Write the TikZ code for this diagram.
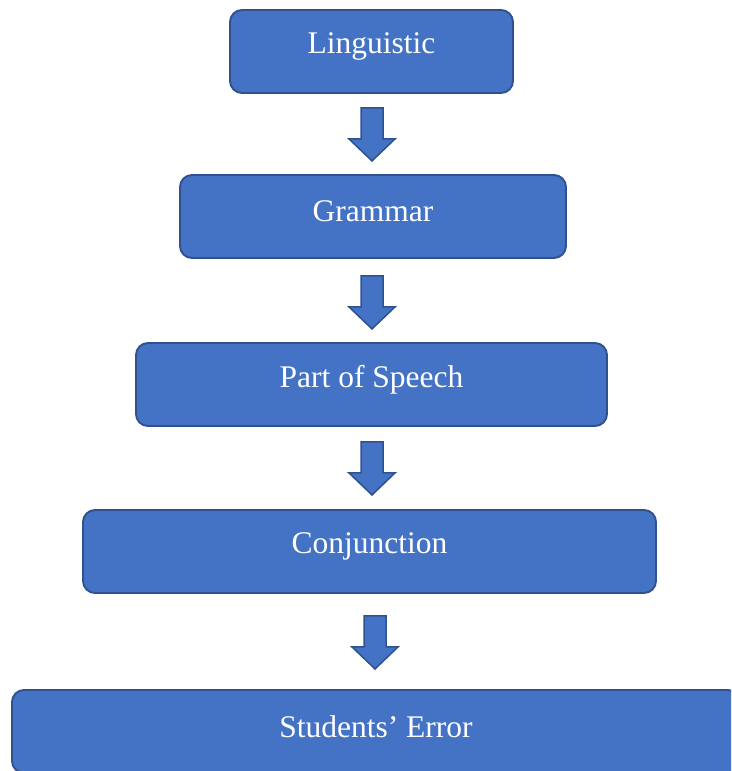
\documentclass[tikz,border=0pt]{standalone}
\usepackage{fontspec}
\setmainfont{Liberation Serif}
\usetikzlibrary{calc}
\definecolor{boxfill}{HTML}{4472C4}
\definecolor{boxline}{HTML}{2F528F}
\tikzset{
  box/.style={draw=boxline, fill=boxfill, line width=1.9pt, rounded corners=12pt, minimum height=83pt, inner sep=0pt},
  txt/.style={text=white, font=\fontsize{31.5}{36}\selectfont, inner sep=0pt, anchor=center},
  blockarrow/.style={draw=boxline, fill=boxfill, line width=1.5pt, line join=miter}
}
\newcommand{\downarrowat}[1]{%
  \draw[blockarrow] ($(#1)+(-11,0)$) -- ($(#1)+(11,0)$) -- ($(#1)+(11,31)$) -- ($(#1)+(23,31)$) -- ($(#1)+(0,53)$) -- ($(#1)+(-23,31)$) -- ($(#1)+(-11,31)$) -- cycle;}
\begin{document}
\begin{tikzpicture}[x=1pt,y=-1pt]
\useasboundingbox (0,0) rectangle (731,771);
\clip (0,0) rectangle (731,771);
\node[box, minimum width=283pt] (b1) at (371.5,51.5) {};
\node[box, minimum width=386pt] (b2) at (373,216.5) {};
\node[box, minimum width=471pt] (b3) at (371.5,384.5) {};
\node[box, minimum width=573pt] (b4) at (369.5,551.5) {};
\node[box, minimum width=728pt] (b5) at (376,731.5) {};
\node[txt] (t1) at ([yshift=-37.5pt]b1.north) {Linguistic};
\node[txt] (t2) at ([yshift=-37.5pt]b2.north) {Grammar};
\node[txt] (t3) at ([yshift=-37.5pt]b3.north) {Part of Speech};
\node[txt] (t4) at ([yshift=-37.5pt]b4.north) {Conjunction};
\node[txt] (t5) at ([yshift=-37.5pt]b5.north) {Students’ Error};
\coordinate (a1) at ($(b1.south)+(0.5,14)$);
\coordinate (a2) at ($(b2.south)+(-1,17)$);
\coordinate (a3) at ($(b3.south)+(0.5,15)$);
\coordinate (a4) at ($(b4.south)+(5.5,22)$);
\downarrowat{a1}
\downarrowat{a2}
\downarrowat{a3}
\downarrowat{a4}
\end{tikzpicture}
\end{document}
